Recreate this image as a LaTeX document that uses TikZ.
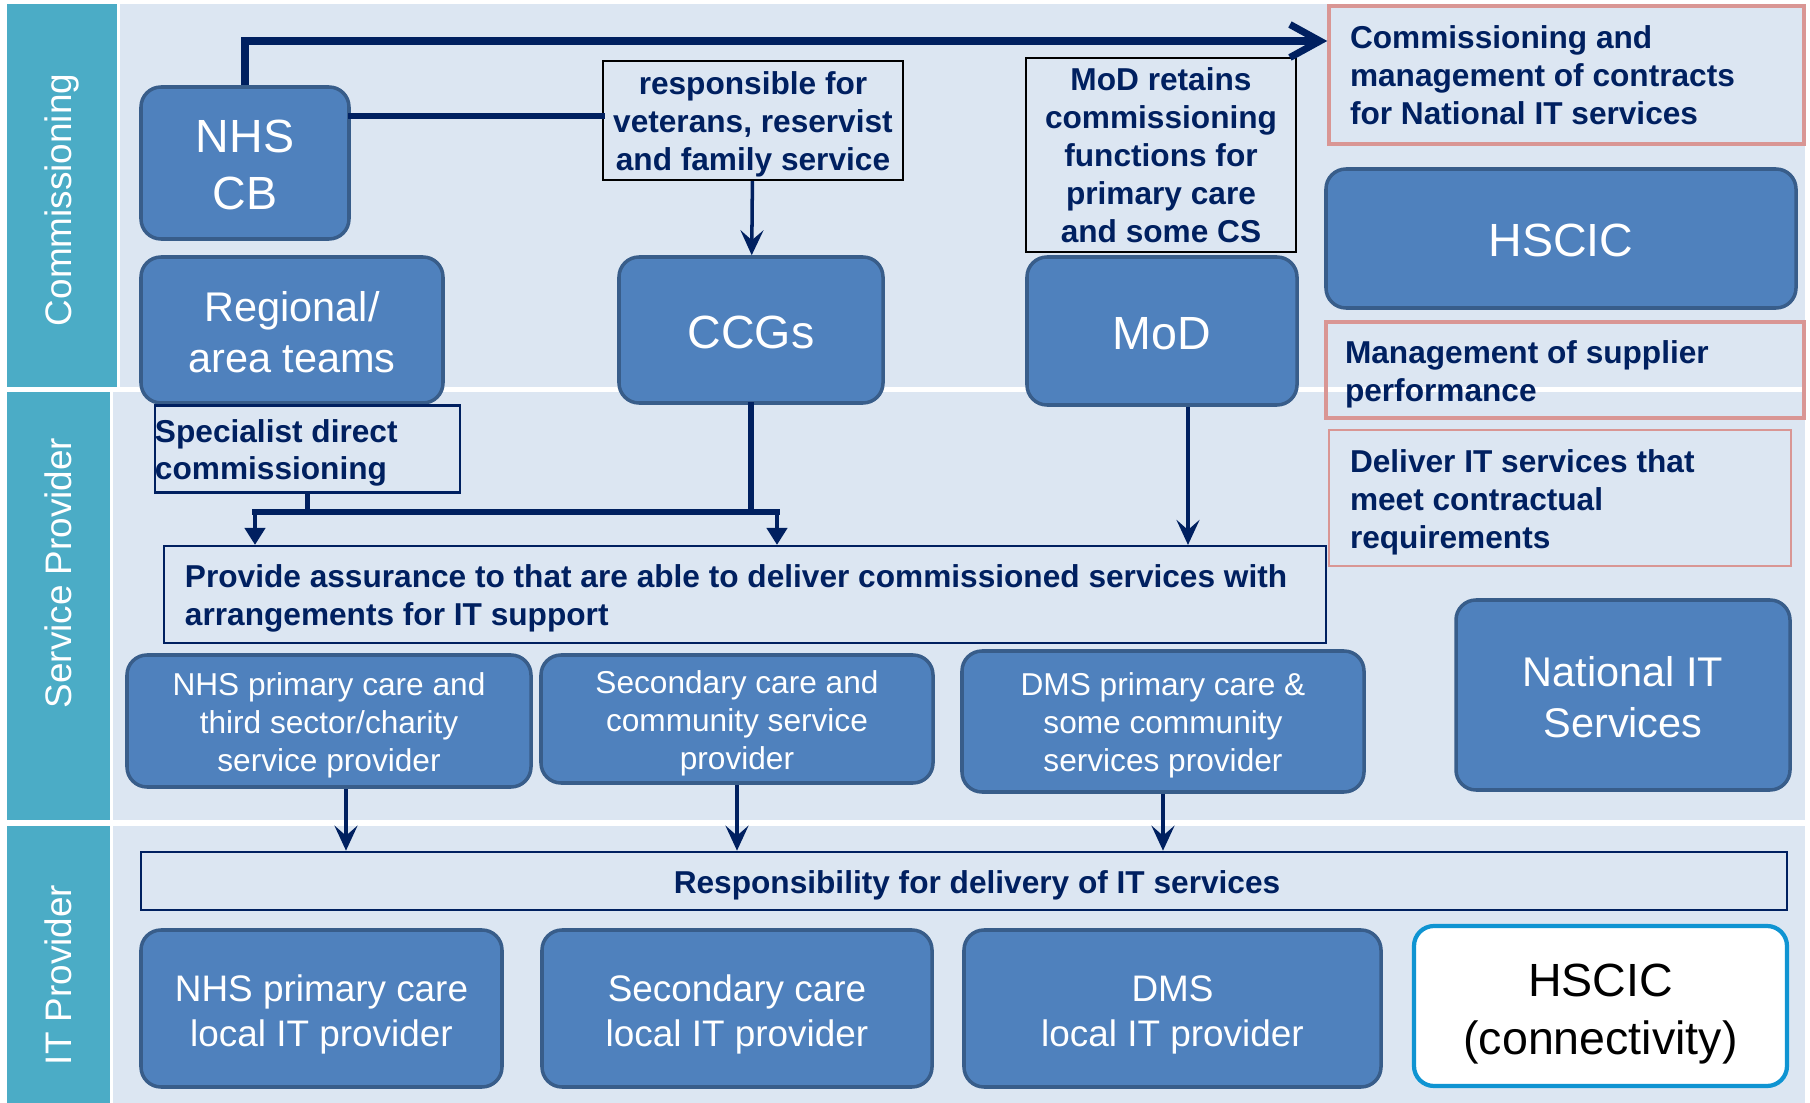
\documentclass[tikz,border=0pt]{standalone}
\usepackage{fontspec}
\setmainfont{Liberation Sans}
\usetikzlibrary{arrows.meta}

\definecolor{bgblue}{HTML}{DCE6F2}
\definecolor{bandteal}{HTML}{4BACC6}
\definecolor{boxblue}{HTML}{4F81BD}
\definecolor{boxedge}{HTML}{385D8A}
\definecolor{navyline}{HTML}{002060}
\definecolor{pinkedge}{HTML}{D99694}
\definecolor{cyanedge}{HTML}{0F94D2}

\begin{document}
\begin{tikzpicture}[x=0.2mm, y=-0.2mm,
  bluebox/.style={draw=boxedge, fill=boxblue, line width=2pt, rounded corners=4mm,
    text=white, align=center, inner sep=0pt},
  drop/.style={execute at begin node={\spaceskip=\fontdimen2\font\xspaceskip=\fontdimen2\font\rule{0pt}{#1}}},
  bigtxt/.style={font=\fontsize{26.5}{32.5}\selectfont, drop=0.8em},
  midtxt/.style={font=\fontsize{23.6}{29}\selectfont, drop=0.84em},
  ittxt/.style={font=\fontsize{21}{25.5}\selectfont, drop=1.04em},
  sptxt/.style={font=\fontsize{18}{21.6}\selectfont, drop=0.97em},
  note/.style={draw=navyline, line width=1.2pt, text=navyline,
    font=\bfseries\fontsize{18}{21.6}\selectfont},
  pinknote/.style={note, draw=pinkedge, line width=2pt, align=left},
  band/.style={rotate=90, text=white, font=\fontsize{21}{25}\selectfont},
  flow/.style={navyline, line width=2pt, -{Stealth[length=5mm,width=4.6mm,inset=2mm]}},
  branch/.style={navyline, line width=2.5pt, -{Triangle[length=3.4mm,width=4mm]}},
  thickline/.style={navyline, line width=3pt, line cap=rect}]

\useasboundingbox (0,0) rectangle (1810,1103);

% bands
\fill[bgblue] (120,4) rectangle (1805,387);
\fill[bgblue] (113,392) rectangle (1805,820);
\fill[bgblue] (113,826) rectangle (1805,1103);
\fill[bandteal] (7,4) rectangle (117,387);
\fill[bandteal] (7,392) rectangle (110,820);
\fill[bandteal] (7,826) rectangle (110,1103);

\node[band] (lbcomm) at (62,200) {Commissioning};
\node[band] (lbsp) at (58,573) {Service Provider};
\node[band] (lbit) at (58,975) {IT Provider};

% commissioning
\node[bluebox, bigtxt, text width=41.6mm, minimum height=30.4mm] (nhscb) at (245,163) {NHS\\CB};
\node[bluebox, midtxt, text width=60.4mm, minimum height=29.2mm] (regional) at (292,330) {Regional/\\area teams};
\node[bluebox, bigtxt, text width=52.8mm, minimum height=29.2mm] (ccgs) at (751,330) {CCGs};
\node[bluebox, bigtxt, text width=54mm, minimum height=29.6mm] (mod) at (1162,331) {MoD};
\node[bluebox, bigtxt, text width=94mm, minimum height=27.8mm] (hscic) at (1561,238.5) {HSCIC};

\node[note, draw=black, align=center, inner sep=0pt, drop=0.95em, text width=60mm, minimum height=23.8mm] (resp) at (753,120.5)
  {responsible for\\veterans, reservist\\and family service};
\node[note, draw=black, align=center, inner sep=0pt, drop=0.75em, text width=54mm, minimum height=38.8mm] (modret) at (1161,155)
  {MoD retains\\commissioning\\functions for\\primary care\\and some CS};

\node[pinknote, drop=0.75em, text width=86.6mm, inner xsep=4.2mm, minimum height=27.6mm] (comm) at (1566.5,75)
  {Commissioning and\\management of contracts\\for National IT services};
\node[pinknote, drop=1em, text width=88mm, inner xsep=3.8mm, minimum height=19.2mm] (mgmt) at (1565,370)
  {Management of supplier\\performance};
\node[pinknote, drop=0.97em, line width=1.3pt, text width=84mm, inner xsep=4.2mm, minimum height=27.2mm] (deliver) at (1560,498)
  {Deliver IT services that\\meet contractual\\requirements};

% service provider
\node[note, align=left, drop=0.97em, text width=61mm, inner xsep=0pt, minimum height=15.6mm] (spec) at (307.5,449)
  {Specialist direct\\commissioning};
\node[note, align=left, drop=0.97em, text width=224mm, inner xsep=4.2mm, minimum height=19.4mm] (assure) at (745,594.5)
  {Provide assurance to that are able to deliver commissioned services with\\arrangements for IT support};

\node[bluebox, sptxt, text width=80.8mm, minimum height=26.4mm] (sp1) at (329,721)
  {NHS primary care and\\third sector/charity\\service provider};
\node[bluebox, sptxt, text width=78.4mm, minimum height=25.6mm] (sp2) at (737,719)
  {Secondary care and\\community service\\provider};
\node[bluebox, sptxt, text width=80.4mm, minimum height=28.2mm] (sp3) at (1163,721.5)
  {DMS primary care \&\\some community\\services provider};
\node[bluebox, midtxt, text width=66.8mm, minimum height=38mm] (natit) at (1623,695)
  {National IT\\Services};

% IT provider
\node[note, line width=1.5pt, drop=0.97em, minimum width=329.2mm, minimum height=11.6mm] (itresp) at (964,881)
  {\hspace*{5.2mm}Responsibility for delivery of IT services};

\node[bluebox, ittxt, text width=72.2mm, minimum height=31.4mm] (it1) at (321.5,1008.5)
  {NHS primary care\\local IT provider};
\node[bluebox, ittxt, text width=78mm, minimum height=31.4mm] (it2) at (737,1008.5)
  {Secondary care\\local IT provider};
\node[bluebox, ittxt, text width=83.4mm, minimum height=31.4mm] (it3) at (1172.5,1008.5)
  {DMS\\local IT provider};
\node[bluebox, bigtxt, drop=1.05em, fill=white, draw=cyanedge, line width=2.4pt, text=black,
  font=\fontsize{26.5}{33}\selectfont,
  text width=74.6mm, minimum height=32mm] (it4) at (1600.5,1006) {HSCIC\\(connectivity)};

% connectors
\coordinate (topbend) at (245,41);
\draw[navyline, line width=4pt, -{Straight Barb[length=6mm,width=6.6mm]}]
  (nhscb.north) -- (topbend) -- (topbend -| comm.west);
\coordinate (respin) at ([yshift=0.9mm]resp.west);
\draw[thickline] (respin -| nhscb.east) -- (respin);
\draw[flow] (resp) -- (ccgs);

\coordinate (brL) at (255,512);
\coordinate (brR) at (777,512);
\draw[thickline] (spec.south) -- (spec.south |- brL);
\draw[thickline] (ccgs.south) -- (ccgs.south |- brR);
\draw[thickline] (brL) -- (brR);
\draw[branch] (brL) -- (brL |- assure.north);
\draw[branch] (brR) -- (brR |- assure.north);

\coordinate (modout) at ([xshift=5.2mm]mod.south);
\draw[flow] (modout) -- (modout |- assure.north);

\coordinate (sp1out) at ([xshift=3.4mm]sp1.south);
\draw[flow] (sp1out) -- (sp1out |- itresp.north);
\draw[flow] (sp2.south) -- (sp2.south |- itresp.north);
\draw[flow] (sp3.south) -- (sp3.south |- itresp.north);

\end{tikzpicture}
\end{document}
